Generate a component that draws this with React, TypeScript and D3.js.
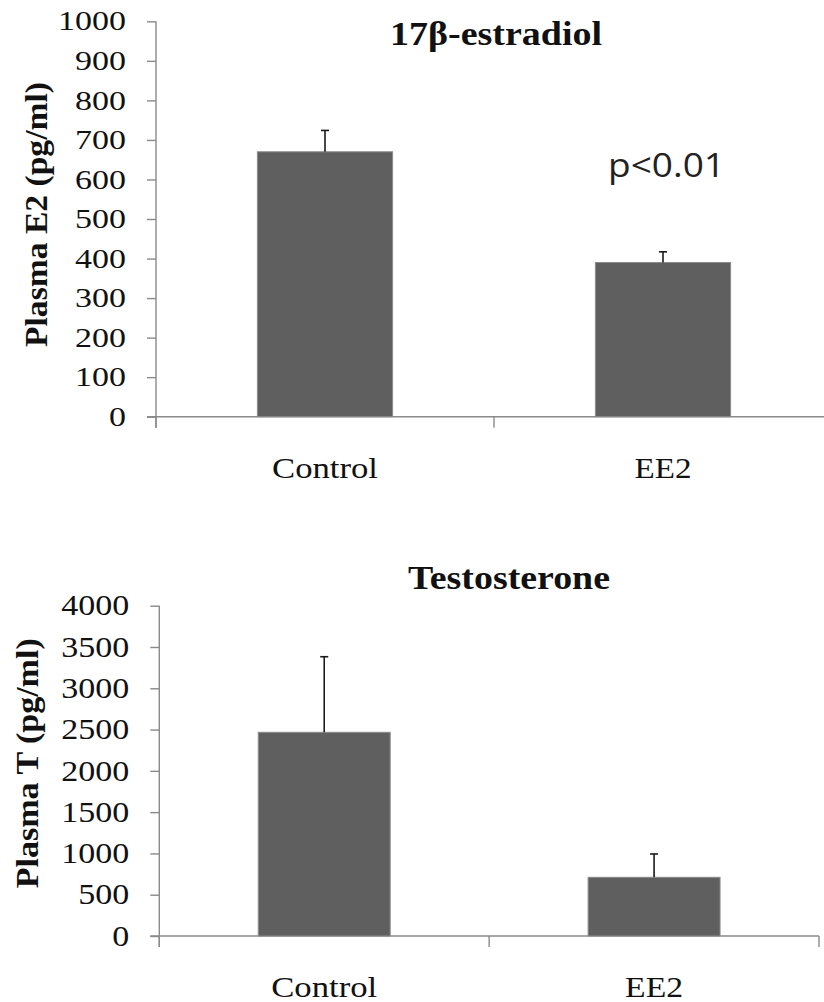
import React, { useEffect, useRef } from 'react';
import * as d3 from 'd3';

// values
const categories = ['Control', 'EE2'];
const e2Means = [670, 390];
const e2Errors = [54, 27];
const e2Ticks = [0, 100, 200, 300, 400, 500, 600, 700, 800, 900, 1000];
const tMeans = [2467, 711];
const tErrors = [915, 282];
const tTicks = [0, 500, 1000, 1500, 2000, 2500, 3000, 3500, 4000];

const SERIF = 'Liberation Serif, Times New Roman, Times, serif';
const AXIS = '#8a8a8a';
const BAR = '#5f5f5f';

type Panel = {
  means: number[];
  errors: number[];
  ticks: number[];
  max: number;
  x0: number;
  x1: number;
  yTop: number;
  yBottom: number;
  tickFont: number;
  title: string;
  titleX: number;
  titleY: number;
  titleLen: number;
  yLabel: string;
  yLabelX: number;
  yLabelY: number;
  yLabelLen: number;
  catY: number;
  catLens: number[];
};

const panels: Panel[] = [
  {
    means: e2Means,
    errors: e2Errors,
    ticks: e2Ticks,
    max: 1000,
    x0: 156,
    x1: 832,
    yTop: 21.3,
    yBottom: 416.7,
    tickFont: 27,
    title: '17β-estradiol',
    titleX: 496,
    titleY: 45,
    titleLen: 212,
    yLabel: 'Plasma E2 (pg/ml)',
    yLabelX: 47,
    yLabelY: 214.5,
    yLabelLen: 265,
    catY: 478,
    catLens: [106, 57],
  },
  {
    means: tMeans,
    errors: tErrors,
    ticks: tTicks,
    max: 4000,
    x0: 159.3,
    x1: 819,
    yTop: 605.7,
    yBottom: 936,
    tickFont: 29,
    title: 'Testosterone',
    titleX: 509,
    titleY: 589.3,
    titleLen: 202,
    yLabel: 'Plasma T (pg/ml)',
    yLabelX: 38.3,
    yLabelY: 763.3,
    yLabelLen: 250,
    catY: 996.7,
    catLens: [106, 58],
  },
];

const drawPanel = (svg: any, p: Panel) => {
  const g = svg.append('g').attr('font-family', SERIF);

  const y = d3.scaleLinear().domain([0, p.max]).range([p.yBottom, p.yTop]);
  const x = d3
    .scaleBand()
    .domain(categories)
    .range([p.x0, p.x1])
    .paddingInner(0.6)
    .paddingOuter(0.3);

  // y axis
  const yAxis = g
    .append('g')
    .attr('transform', `translate(${p.x0},0)`)
    .call(
      d3
        .axisLeft(y)
        .tickValues(p.ticks)
        .tickFormat(d3.format('d'))
        .tickSize(9)
        .tickPadding(21)
        .tickSizeOuter(0)
    );
  yAxis.attr('font-family', SERIF).attr('font-size', p.tickFont);
  yAxis.select('.domain').remove();
  yAxis.selectAll('line').attr('stroke', AXIS).attr('stroke-width', 1.4);
  yAxis
    .selectAll('text')
    .attr('fill', '#111')
    .attr('font-family', SERIF)
    .attr('font-size', p.tickFont)
    .attr('textLength', (d: number) => String(d).length * 17)
    .attr('lengthAdjust', 'spacingAndGlyphs');

  // axis lines
  g.append('line')
    .attr('x1', p.x0)
    .attr('x2', p.x0)
    .attr('y1', p.yTop)
    .attr('y2', p.yBottom + 11)
    .attr('stroke', AXIS)
    .attr('stroke-width', 1.4);
  g.append('line')
    .attr('x1', p.x0 - 9)
    .attr('x2', p.x1)
    .attr('y1', p.yBottom)
    .attr('y2', p.yBottom)
    .attr('stroke', AXIS)
    .attr('stroke-width', 1.4);
  // category boundary ticks
  const bounds = d3.range(categories.length + 1).map((i) => p.x0 + i * x.step());
  g.selectAll('.xtick')
    .data(bounds)
    .enter()
    .append('line')
    .attr('x1', (d: number) => d)
    .attr('x2', (d: number) => d)
    .attr('y1', p.yBottom)
    .attr('y2', p.yBottom + 11)
    .attr('stroke', AXIS)
    .attr('stroke-width', 1.4);

  // bars
  g.selectAll('.bar')
    .data(categories)
    .enter()
    .append('rect')
    .attr('x', (d: string) => x(d))
    .attr('y', (d: string, i: number) => y(p.means[i]))
    .attr('width', x.bandwidth())
    .attr('height', (d: string, i: number) => p.yBottom - y(p.means[i]))
    .attr('fill', BAR)
    .attr('stroke', '#8c8c8c')
    .attr('stroke-width', 1);

  // error bars (upper only)
  categories.forEach((c, i) => {
    const cx = (x(c) as number) + x.bandwidth() / 2;
    const top = y(p.means[i] + p.errors[i]);
    g.append('line')
      .attr('x1', cx)
      .attr('x2', cx)
      .attr('y1', y(p.means[i]))
      .attr('y2', top)
      .attr('stroke', '#1a1a1a')
      .attr('stroke-width', 1.6);
    g.append('line')
      .attr('x1', cx - 4)
      .attr('x2', cx + 4)
      .attr('y1', top)
      .attr('y2', top)
      .attr('stroke', '#1a1a1a')
      .attr('stroke-width', 1.6);
  });

  // category labels
  g.selectAll('.cat')
    .data(categories)
    .enter()
    .append('text')
    .attr('x', (d: string) => (x(d) as number) + x.bandwidth() / 2)
    .attr('y', p.catY)
    .attr('text-anchor', 'middle')
    .attr('fill', '#111')
    .attr('font-family', SERIF)
    .attr('font-size', 30)
    .attr('textLength', (d: string, i: number) => p.catLens[i])
    .attr('lengthAdjust', 'spacingAndGlyphs')
    .text((d: string) => d);

  // title
  g.append('text')
    .attr('x', p.titleX)
    .attr('y', p.titleY)
    .attr('text-anchor', 'middle')
    .attr('fill', '#111')
    .attr('font-family', SERIF)
    .attr('font-weight', 'bold')
    .attr('font-size', 34)
    .attr('textLength', p.titleLen)
    .attr('lengthAdjust', 'spacingAndGlyphs')
    .text(p.title);

  // y label
  g.append('text')
    .attr('transform', `translate(${p.yLabelX},${p.yLabelY}) rotate(-90)`)
    .attr('text-anchor', 'middle')
    .attr('fill', '#111')
    .attr('font-family', SERIF)
    .attr('font-weight', 'bold')
    .attr('font-size', 32)
    .attr('textLength', p.yLabelLen)
    .attr('lengthAdjust', 'spacingAndGlyphs')
    .text(p.yLabel);
};

const App = () => {
  const svgRef = useRef<SVGSVGElement>(null);

  useEffect(() => {
    const svg = d3.select(svgRef.current);
    svg.selectAll('*').remove();

    svg.append('rect').attr('width', 824).attr('height', 1002).attr('fill', '#fff');

    panels.forEach((p) => drawPanel(svg, p));

    svg
      .append('text')
      .attr('x', 608)
      .attr('y', 177)
      .attr('fill', '#222')
      .attr('font-family', 'Open Sans, Liberation Sans, sans-serif')
      .attr('font-size', 32)
      .attr('textLength', 117)
      .attr('lengthAdjust', 'spacingAndGlyphs')
      .text('p<0.01');
  }, []);

  return (
    <svg
      ref={svgRef}
      width={824}
      height={1002}
      style={{ position: 'absolute', left: 0, top: 0 }}
    ></svg>
  );
};

export default App;
